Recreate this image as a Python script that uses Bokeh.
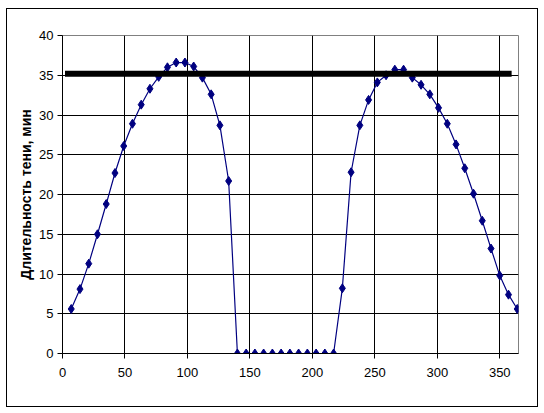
from bokeh.plotting import figure
from bokeh.models import Range1d, FixedTicker, InlineStyleSheet
from bokeh.embed import file_html
from bokeh.resources import INLINE

# Data: shadow duration (minutes) by day of year
days = [7, 14, 21, 28, 35, 42, 49, 56, 63, 70, 77, 84, 91, 98, 105, 112, 119, 126, 133,
        140, 147, 154, 161, 168, 175, 182, 189, 196, 203, 210, 217,
        224, 231, 238, 245, 252, 259, 266, 273, 280, 287, 294, 301, 308, 315, 322, 329,
        336, 343, 350, 357, 364]
shadow = [5.6, 8.1, 11.3, 15.0, 18.8, 22.7, 26.1, 28.9, 31.3, 33.3, 34.8, 36.0, 36.6, 36.6, 36.1, 34.7, 32.6, 28.7, 21.7,
          0, 0, 0, 0, 0, 0, 0, 0, 0, 0, 0, 0,
          8.2, 22.8, 28.7, 31.9, 34.1, 35.0, 35.7, 35.7, 34.7, 33.8, 32.6, 30.9, 28.9, 26.3, 23.3, 20.1,
          16.7, 13.2, 9.8, 7.4, 5.6]
limit_days = [2, 359.5]
limit_value = [35.2, 35.2]

x_ticks = [0, 50, 100, 150, 200, 250, 300, 350]
y_ticks = [0, 5, 10, 15, 20, 25, 30, 35, 40]
y_label = "Длительность тени, мин"

p = figure(width=544, height=413, output_backend="svg", toolbar_location=None,
           x_range=Range1d(0, 365), y_range=Range1d(0, 40),
           min_border_left=62, min_border_right=26, min_border_top=35, min_border_bottom=60)

p.background_fill_color = "white"
p.border_fill_color = "white"
p.outline_line_color = "#808080"
p.outline_line_width = 1

for ax in (p.xaxis[0], p.yaxis[0]):
    ax.axis_line_color = "black"
    ax.major_tick_line_color = "black"
    ax.minor_tick_line_color = None
    ax.major_tick_in = 0
    ax.major_tick_out = 5
    ax.major_label_text_font = "Liberation Sans"
    ax.major_label_text_font_size = "13px"
    ax.major_label_text_color = "black"

p.xaxis.ticker = FixedTicker(ticks=x_ticks)
p.yaxis.ticker = FixedTicker(ticks=y_ticks)
p.xaxis.major_label_standoff = 9
p.yaxis.major_label_standoff = 4
p.yaxis.axis_label = y_label
p.yaxis.axis_label_text_font = "Liberation Sans"
p.yaxis.axis_label_text_font_size = "14px"
p.yaxis.axis_label_text_font_style = "bold"
p.yaxis.axis_label_text_color = "black"
p.yaxis.axis_label_standoff = 2

p.xgrid.ticker = FixedTicker(ticks=x_ticks)
p.ygrid.ticker = FixedTicker(ticks=y_ticks)
p.grid.grid_line_color = "black"
p.grid.grid_line_width = 1

p.line(days, shadow, line_color="#000080", line_width=1.2)
p.scatter(days, shadow, marker="diamond", size=9, fill_color="#000080", line_color="#000080")
p.line(limit_days, limit_value, line_color="black", line_width=6)

# outer chart-area border
p.stylesheets = [InlineStyleSheet(css="""
:host::after {
  content: "";
  position: absolute;
  left: 6px; top: 8px;
  width: 532px; height: 399px;
  border: 1px solid black;
  box-sizing: border-box;
  pointer-events: none;
  z-index: 100;
}
""")]

open("out.html", "w").write(file_html(p, INLINE))
